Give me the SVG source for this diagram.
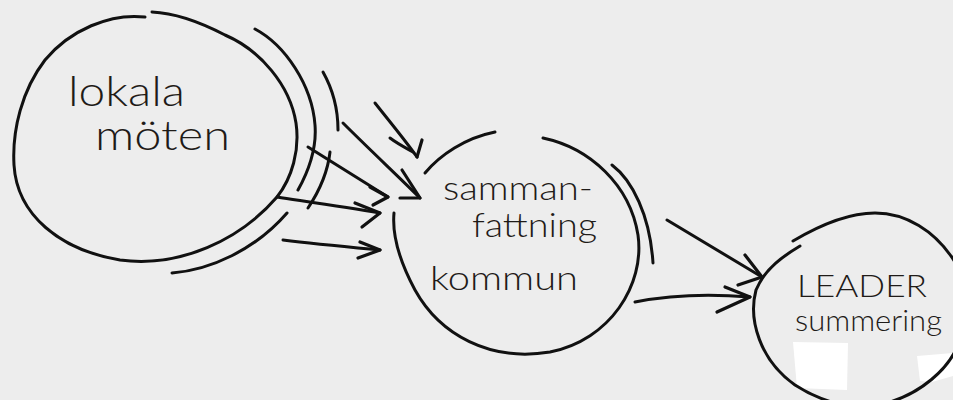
<svg xmlns="http://www.w3.org/2000/svg" width="953" height="400" viewBox="0 0 953 400">
<style>
.ink{fill:none;stroke:#111;stroke-width:3;stroke-linecap:round;stroke-linejoin:round}
.head{fill:none;stroke:#111;stroke-width:3.2;stroke-linecap:round;stroke-linejoin:round}
.txt{font-family:Lato,"Open Sans","DejaVu Sans",sans-serif;font-weight:300;fill:#1f1b18}
.patch{fill:#ffffff}
</style>
<rect width="953" height="400" fill="#ededed"/>
<g id="paper">
<polygon class="patch" points="793,342 848,343 847,390 797,388"/>
<polygon class="patch" points="917,356 953,353 953,376 932,382 920,381"/>
</g>
<g id="node-lokala">
<path class="ink" d="M145,17 C110,13 70,30 45,60 C22,90 12,130 14,165 C17,215 60,250 120,260 C180,268 240,240 277,197 C292,178 300,150 296,123 C290,85 260,50 225,35 C200,22 175,13 152,12"/>
<path class="ink" d="M255,29 C285,45 312,85 315,125 C317,150 308,172 298,190"/>
<path class="ink" d="M172,273 C210,270 255,250 287,213"/>
<path class="ink" d="M323,72 C332,88 338,108 338,130"/>
<path class="ink" d="M330,152 C328,170 320,190 308,208"/>
<text class="txt" x="68" y="106" font-size="42" textLength="117" lengthAdjust="spacingAndGlyphs">lokala</text>
<text class="txt" x="95" y="150" font-size="42" textLength="135" lengthAdjust="spacingAndGlyphs">möten</text>
</g>
<g id="node-kommun">
<path class="ink" d="M425,173 C440,155 465,138 495,132"/>
<path class="ink" d="M543,138 C590,148 630,185 638,235 C645,285 610,340 550,352 C490,362 440,335 415,290 C400,262 392,235 394,213"/>
<path class="ink" d="M612,165 C632,180 650,215 653,263"/>
<text class="txt" x="443" y="200" font-size="34" textLength="150" lengthAdjust="spacingAndGlyphs">samman-</text>
<text class="txt" x="472" y="237" font-size="34" textLength="125" lengthAdjust="spacingAndGlyphs">fattning</text>
<text class="txt" x="430" y="290" font-size="34" textLength="148" lengthAdjust="spacingAndGlyphs">kommun</text>
</g>
<g id="node-leader">
<path class="ink" d="M800,246 C785,255 765,268 756,290 C748,320 760,360 795,385 C815,398 835,405 860,408"/>
<path class="ink" d="M793,241 C820,225 850,213 875,213 C905,213 935,230 955,262"/>
<path class="ink" d="M958,345 C948,370 920,393 890,402"/>
<text class="txt" x="797" y="297" font-size="31" textLength="130" lengthAdjust="spacingAndGlyphs">LEADER</text>
<text class="txt" x="795" y="331" font-size="29" textLength="147" lengthAdjust="spacingAndGlyphs">summering</text>
</g>
<g id="connectors">
<path class="ink" d="M375,103 C390,122 405,140 417,157"/>
<path class="ink" d="M390,138 C398,144 406,148 413,152"/>
<path class="head" d="M422,140 L417,157"/>
<path class="ink" d="M343,123 C370,150 398,176 420,198"/>
<path class="head" d="M402,170 L420,198 L400,198"/>
<path class="ink" d="M308,147 C335,164 362,181 388,197"/>
<path class="head" d="M370,187 L388,197 L373,205" stroke-width="4"/>
<path class="ink" d="M277,197 C310,202 345,207 380,213"/>
<path class="head" d="M355,203 L380,213 L362,227"/>
<path class="ink" d="M283,240 C315,244 348,247 380,250"/>
<path class="head" d="M360,242 L380,250 L358,258"/>
<path class="ink" d="M667,220 C700,240 732,259 762,277"/>
<path class="head" d="M745,255 L762,277 L738,285"/>
<path class="ink" d="M635,302 C655,298 690,292 750,297"/>
<path class="head" d="M725,287 L750,297 L717,312"/>
</g>
</svg>
